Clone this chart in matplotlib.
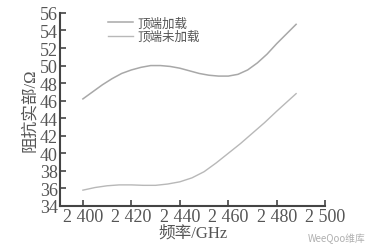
import matplotlib.pyplot as plt

# frequency (MHz) and real part of impedance (Ohm)
freq_loaded = [2400, 2404, 2408, 2412, 2416, 2420, 2424, 2428, 2432, 2436, 2440,
               2444, 2448, 2452, 2456, 2460, 2464, 2468, 2472, 2476, 2480, 2484, 2488]
res_loaded = [46.2, 47.0, 47.8, 48.5, 49.1, 49.5, 49.8, 50.0, 50.0, 49.9, 49.7,
              49.4, 49.1, 48.9, 48.8, 48.8, 49.0, 49.5, 50.3, 51.3, 52.5, 53.6, 54.7]

freq_unloaded = [2400, 2405, 2410, 2415, 2420, 2425, 2430, 2435, 2440, 2445, 2450,
                 2455, 2460, 2465, 2470, 2475, 2480, 2484, 2488]
res_unloaded = [35.8, 36.1, 36.3, 36.4, 36.4, 36.35, 36.35, 36.5, 36.75, 37.2, 37.9,
                38.9, 40.0, 41.1, 42.3, 43.5, 44.8, 45.8, 46.8]

xticks = [2400, 2420, 2440, 2460, 2480, 2500]
xticklabels = ['2 400', '2 420', '2 440', '2 460', '2 480', '2 500']
yticks = list(range(34, 57, 2))

cjk = ['Noto Sans CJK SC', 'DejaVu Sans']
plt.rcParams['font.family'] = ['Liberation Serif', 'Noto Sans CJK SC']

fig = plt.figure(figsize=(3.79, 2.53), dpi=100)
ax = fig.add_axes([0.158, 0.182, 0.70, 0.763])

ax.plot(freq_loaded, res_loaded, color='#a8a8a8', lw=1.1, label='顶端加载')
ax.plot(freq_unloaded, res_unloaded, color='#b8b8b8', lw=1.0, label='顶端未加载')

ax.set_xlim(2390.5, 2500)
ax.set_ylim(34, 56)
ax.set_xticks(xticks)
ax.set_xticklabels(xticklabels)
ax.set_yticks(yticks)
ax.tick_params(direction='in', length=4, width=1.2, colors='#444444',
               labelsize=13, pad=1.5, labelcolor='#555555')
for s in ['top', 'right']:
    ax.spines[s].set_visible(False)
for s in ['left', 'bottom']:
    ax.spines[s].set_color('#444444')
    ax.spines[s].set_linewidth(1.5)

ax.set_xlabel('频率/GHz', fontsize=12, color='#555555', labelpad=0)
ax.set_ylabel('阻抗实部/Ω', fontsize=12, color='#555555', labelpad=1)

leg = ax.legend(loc='upper left', bbox_to_anchor=(0.14, 1.04), frameon=False,
                prop={'family': ['Noto Sans CJK SC'], 'size': 9},
                handlelength=2.0, handletextpad=0.3, labelspacing=0.05)
for t in leg.get_texts():
    t.set_color('#555555')

fig.text(0.965, 0.035, 'WeeQoo维库', ha='right', va='bottom', fontsize=7,
         color='#b0b0b0', style='italic', family=cjk)

fig.savefig('out.png', dpi=100)
